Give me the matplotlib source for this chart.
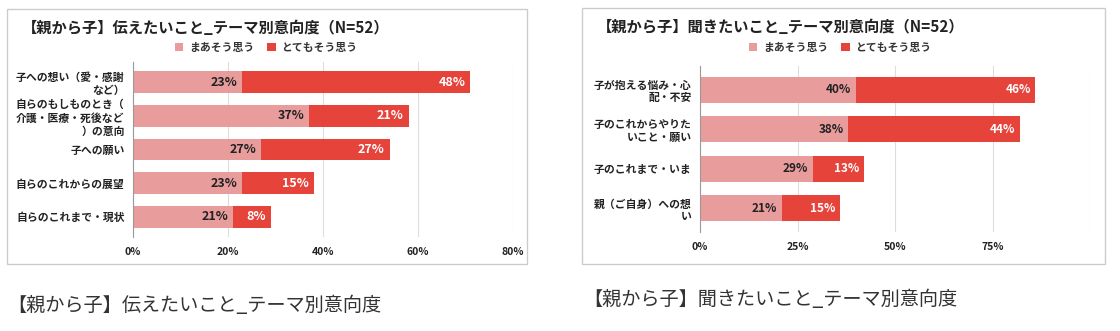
import matplotlib.pyplot as plt
from matplotlib.patches import Rectangle

plt.rcParams['font.family'] = ['Noto Sans CJK JP', 'DejaVu Sans']

legend_labels = ['まあそう思う', 'とてもそう思う']
light = '#e89c9c'
red = '#e6433a'

left_title = '【親から子】伝えたいこと_テーマ別意向度（N=52）'
left_caption = '【親から子】伝えたいこと_テーマ別意向度'
left_cats = ['子への想い（愛・感謝\nなど）', '自らのもしものとき（\n介護・医療・死後など\n）の意向',
             '子への願い', '自らのこれからの展望', '自らのこれまで・現状']
left_maa = [23, 37, 27, 23, 21]
left_totemo = [48, 21, 27, 15, 8]
left_ticks = [0, 20, 40, 60, 80]
left_ticklabels = ['0%', '20%', '40%', '60%', '80%']

right_title = '【親から子】聞きたいこと_テーマ別意向度（N=52）'
right_caption = '【親から子】聞きたいこと_テーマ別意向度'
right_cats = ['子が抱える悩み・心\n配・不安', '子のこれからやりた\nいこと・願い',
              '子のこれまで・いま', '親（ご自身）への想\nい']
right_maa = [40, 38, 29, 21]
right_totemo = [46, 44, 13, 15]
right_ticks = [0, 25, 50, 75, 100]
right_ticklabels = ['0%', '25%', '50%', '75%', '']

W, H = 1120, 331
fig = plt.figure(figsize=(W / 100, H / 100), dpi=100)


def px(x0, y0, x1, y1):
    # pixel box -> figure fraction [left, bottom, width, height]
    return [x0 / W, 1 - y1 / H, (x1 - x0) / W, (y1 - y0) / H]


def panel(rect, cats, maa, totemo, ticks, ticklabels, xmax, pad, lab_fs):
    ax = fig.add_axes(rect)
    y = list(range(len(cats)))
    b1 = ax.barh(y, maa, height=0.65, color=light, zorder=3)
    b2 = ax.barh(y, totemo, left=maa, height=0.65, color=red, zorder=3)
    for i in y:
        ax.text(maa[i] - pad, i, f'{maa[i]}%', ha='right', va='center',
                fontsize=lab_fs, fontweight='bold', color='#222222', zorder=4)
        ax.text(maa[i] + totemo[i] - pad, i, f'{totemo[i]}%', ha='right', va='center',
                fontsize=lab_fs, fontweight='bold', color='white', zorder=4)
    ax.set_xlim(0, xmax)
    ax.set_ylim(len(cats) - 1 + 0.6, -0.6)
    ax.set_yticks(y)
    ax.set_yticklabels(cats, fontsize=7.8, fontweight='bold', color='#222222')
    for t in ax.get_yticklabels():
        t.set_linespacing(1.3)
    ax.set_xticks(ticks)
    ax.set_xticklabels(ticklabels, fontsize=7.5, fontweight='bold', color='#222222')
    ax.tick_params(length=0, pad=7)
    ax.tick_params(axis='y', pad=6)
    ax.grid(axis='x', color='#dddddd', lw=0.8, zorder=0)
    for s in ['top', 'right', 'bottom']:
        ax.spines[s].set_visible(False)
    ax.spines['left'].set_color('#999999')
    ax.spines['left'].set_zorder(5)
    return ax, b1, b2


ax1, l1, l2 = panel(px(133, 62, 513, 237), left_cats, left_maa, left_totemo,
                    left_ticks, left_ticklabels, 80, 1.0, 9)
ax2, r1, r2 = panel(px(700, 66, 1090, 232), right_cats, right_maa, right_totemo,
                    right_ticks, right_ticklabels, 100, 1.2, 8.5)

for box in [(7, 9, 527, 264), (582, 8, 1105, 264)]:
    fig.patches.append(Rectangle((box[0] / W, 1 - box[3] / H), (box[2] - box[0]) / W,
                                 (box[3] - box[1]) / H, transform=fig.transFigure,
                                 fill=False, edgecolor='#cccccc', lw=1))

fig.text(22 / W, 1 - 28 / H, left_title, fontsize=11, fontweight='bold',
         color='#222222', va='center', ha='left')
fig.text(597 / W, 1 - 27 / H, right_title, fontsize=11, fontweight='bold',
         color='#222222', va='center', ha='left')

for bars, cx in [((l1, l2), 266), ((r1, r2), 840)]:
    fig.legend(bars, legend_labels, loc='center', bbox_to_anchor=(cx / W, 1 - 48 / H),
               ncol=2, frameon=False, handlelength=0.8, handleheight=0.8,
               handletextpad=0.5, columnspacing=1.2, labelcolor='#333333',
               prop={'weight': 'bold', 'size': 7.8})

fig.text(7 / W, 1 - 305 / H, left_caption, fontsize=13.8, color='#333333', va='center')
fig.text(583 / W, 1 - 300 / H, right_caption, fontsize=13.8, color='#333333', va='center')

fig.savefig('out.png', dpi=100)
